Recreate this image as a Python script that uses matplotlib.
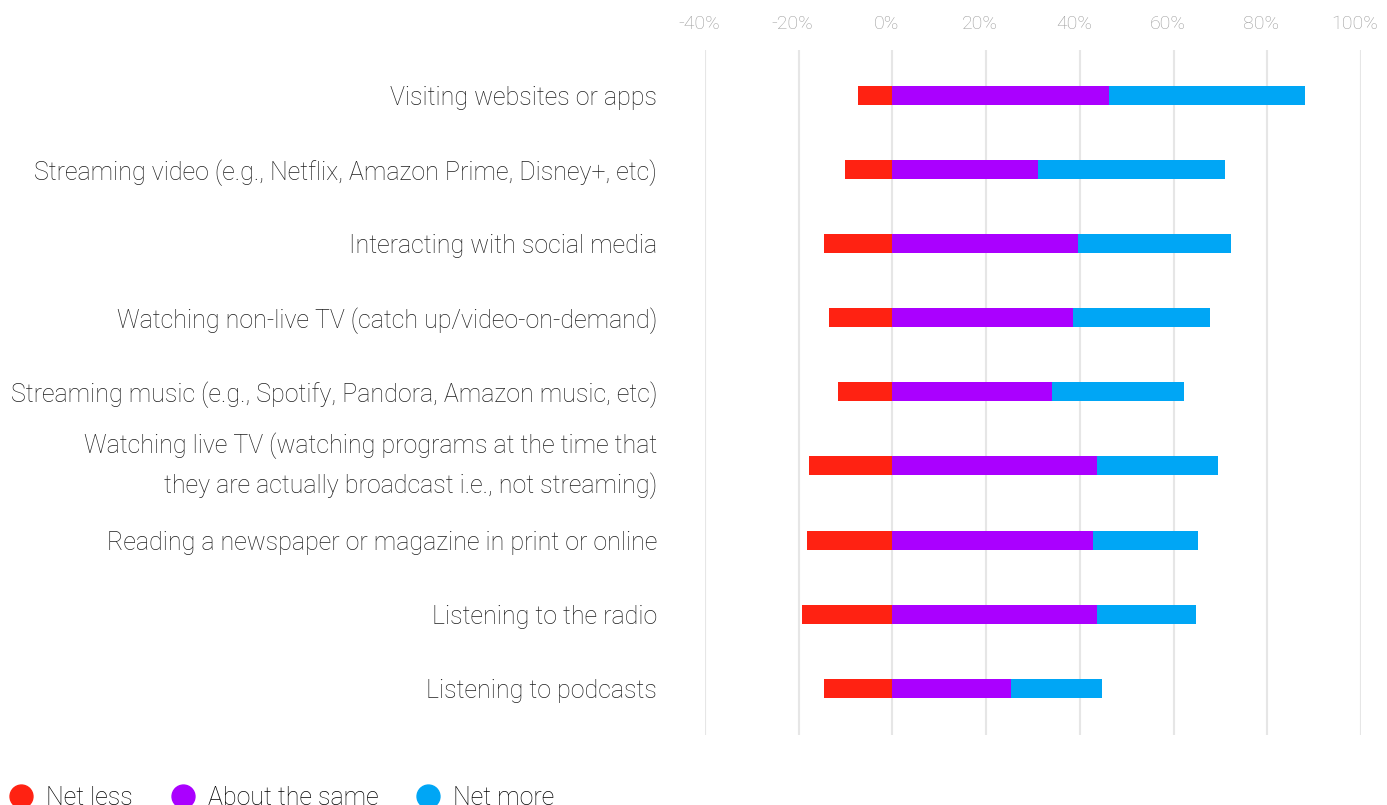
import matplotlib
matplotlib.use("Agg")
import matplotlib.pyplot as plt
import matplotlib.transforms as mtransforms
from matplotlib.lines import Line2D

plt.rcParams["font.family"] = ["Roboto", "DejaVu Sans"]
plt.rcParams["font.weight"] = "light"

categories = [
    "Visiting websites or apps",
    "Streaming video (e.g., Netflix, Amazon Prime, Disney+, etc)",
    "Interacting with social media",
    "Watching non-live TV (catch up/video-on-demand)",
    "Streaming music (e.g., Spotify, Pandora, Amazon music, etc)",
    "Watching live TV (watching programs at the time that\nthey are actually broadcast i.e., not streaming)",
    "Reading a newspaper or magazine in print or online",
    "Listening to the radio",
    "Listening to podcasts",
]
net_less = [-7.4, -10.2, -14.5, -13.6, -11.7, -17.9, -18.3, -19.2, -14.5]
about_same = [46.3, 31.1, 39.6, 38.6, 34.1, 43.7, 42.8, 43.7, 25.3]
net_more = [41.7, 39.8, 32.7, 29.1, 28.2, 25.7, 22.5, 21.0, 19.4]
series_names = ["Net less", "About the same", "Net more"]
colors = ["#FF2212", "#AA00FF", "#00A6F5"]
x_ticks = [-40, -20, 0, 20, 40, 60, 80, 100]

fig = plt.figure(figsize=(13.87, 8.05), dpi=100)
ax = fig.add_axes([705 / 1387, 70 / 805, 656 / 1387, 685 / 805])

y = list(range(len(categories)))
h = 0.256
ax.barh(y, net_less, height=h, color=colors[0], zorder=3)
ax.barh(y, about_same, height=h, color=colors[1], zorder=3)
ax.barh(y, net_more, left=about_same, height=h, color=colors[2], zorder=3)

ax.set_xlim(-40, 100)
ax.set_ylim(8.63, -0.61)
ax.set_xticks(x_ticks)
ax.set_xticklabels([f"{t}%" for t in x_ticks])
ax.xaxis.tick_top()
ax.tick_params(axis="x", length=0, pad=12, labelsize=14, labelcolor="#9c9c9c")
for lbl in ax.get_xticklabels():
    lbl.set_transform(lbl.get_transform() + mtransforms.ScaledTranslation(-0.06, 0, fig.dpi_scale_trans))
ax.grid(axis="x", color="#e6e6e6", linewidth=1.5, zorder=0)
ax.set_yticks(y)
ax.set_yticklabels(categories, fontsize=18, color="#1e1e1e", linespacing=1.62)
for lbl in ax.get_yticklabels():
    if "\n" in lbl.get_text():
        lbl.set_verticalalignment("center")
ax.tick_params(axis="y", length=0, pad=34.5)
for s in ax.spines.values():
    s.set_visible(False)

handles = [Line2D([], [], marker="o", linestyle="none", markersize=16.5,
                  markerfacecolor=c, markeredgecolor=c) for c in colors]
fig.legend(handles, series_names, loc="lower left", bbox_to_anchor=(0.006, -0.006),
           ncol=3, frameon=False, fontsize=18, handlelength=1.0, handletextpad=0.5,
           columnspacing=1.5, borderaxespad=0.0, borderpad=0.0)

fig.savefig("out.png", dpi=100, facecolor="white")
